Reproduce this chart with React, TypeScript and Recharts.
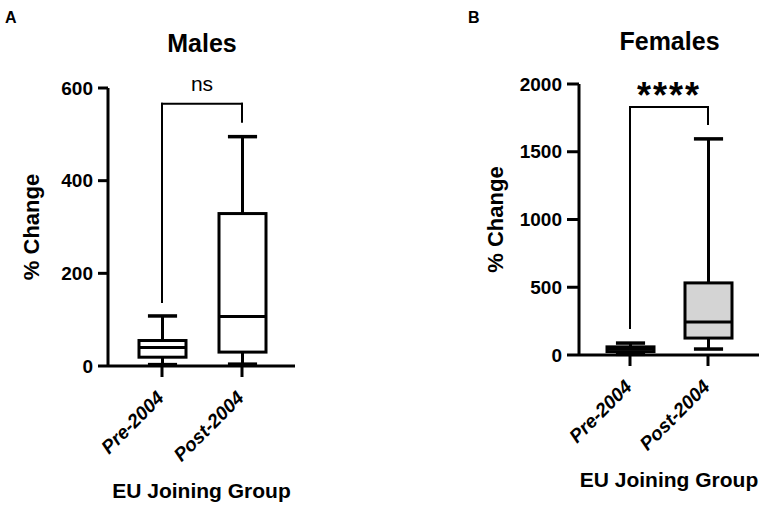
import React from 'react';
import { ComposedChart, Bar, XAxis, YAxis, ReferenceLine } from 'recharts';

const groups = ['Pre-2004', 'Post-2004'];

// five-number summaries: [min, q1, median, q3, max]
const malesSummary = [
  [3, 19, 40, 55, 108],
  [4, 30, 107, 329, 495],
];
const femalesSummary = [
  [5, 25, 45, 60, 88],
  [44, 125, 244, 532, 1595],
];

const malesTicks = [0, 200, 400, 600];
const femalesTicks = [0, 500, 1000, 1500, 2000];

// significance bracket: [left foot, top, right foot]
const malesBracket = [138, 566, 527];
const femalesBracket = [200, 1830, 1705];

const toRows = (summary: number[][]) =>
  groups.map((group, i) => {
    const [min, q1, median, q3, max] = summary[i];
    return { group, min, q1, median, q3, max, range: [min, max] };
  });

const BoxShape = (props: any) => {
  const { x, y, width, height, payload, boxFill } = props;
  const { min, q1, median, q3, max } = payload;
  // bar spans min..max, so map other values linearly inside it
  const toY = (v: number) => y + (height * (max - v)) / (max - min);
  const cx = x + width / 2;
  const cap = width * 0.31;
  return (
    <g stroke="#000" strokeWidth={3} fill="none">
      <line x1={cx} x2={cx} y1={toY(max)} y2={toY(q3)} />
      <line x1={cx} x2={cx} y1={toY(q1)} y2={toY(min)} />
      <line x1={cx - cap} x2={cx + cap} y1={toY(max)} y2={toY(max)} strokeWidth={3.5} />
      <line x1={cx - cap} x2={cx + cap} y1={toY(min)} y2={toY(min)} strokeWidth={3.5} />
      <rect x={x} y={toY(q3)} width={width} height={toY(q1) - toY(q3)} fill={boxFill} />
      <line x1={x} x2={x + width} y1={toY(median)} y2={toY(median)} />
    </g>
  );
};

const GroupTick = ({ x, y, payload }: any) => (
  <g transform={`translate(${x},${y})`}>
    <text
      transform="translate(3,20) rotate(-45)"
      textAnchor="end"
      fontSize={19}
      fontWeight="bold"
      fontStyle="italic"
      fill="#000"
    >
      {payload.value}
    </text>
  </g>
);

const yLabel = (bx: number) => (props: any) => {
  const { viewBox } = props;
  const cy = viewBox.y + viewBox.height / 2;
  return (
    <text
      x={bx}
      y={cy}
      transform={`rotate(-90, ${bx}, ${cy})`}
      textAnchor="middle"
      fontSize={22}
      fontWeight="bold"
      fill="#000"
    >
      % Change
    </text>
  );
};

const axisStroke = { stroke: '#000', strokeWidth: 3 };

type PanelProps = {
  left: number;
  width: number;
  rows: any[];
  ticks: number[];
  bracket: number[];
  mark: string;
  markStyle: any;
  boxFill: string;
  yAxisWidth: number;
  marginTop: number;
  marginRight: number;
  xAxisHeight: number;
  yTickSize: number;
  pad: { left: number; right: number };
  yLabelX: number;
  xLabelOffset: number;
};

const Panel = (p: PanelProps) => {
  const top = p.ticks[p.ticks.length - 1];
  const [footL, peak, footR] = p.bracket;
  return (
    <div style={{ position: 'absolute', left: p.left, top: 0 }}>
      <ComposedChart
        width={p.width}
        height={511}
        data={p.rows}
        margin={{ top: p.marginTop, right: p.marginRight, bottom: 0, left: 0 }}
      >
        <XAxis
          dataKey="group"
          type="category"
          height={p.xAxisHeight}
          padding={p.pad}
          axisLine={axisStroke}
          tickLine={axisStroke}
          tickSize={11}
          tickMargin={2}
          tick={<GroupTick />}
          interval={0}
          label={{
            value: 'EU Joining Group',
            position: 'insideBottom',
            offset: p.xLabelOffset,
            fontSize: 21,
            fontWeight: 'bold',
            fill: '#000',
          }}
        />
        <YAxis
          type="number"
          domain={[0, top]}
          ticks={p.ticks}
          width={p.yAxisWidth}
          axisLine={axisStroke}
          tickLine={axisStroke}
          tickSize={p.yTickSize}
          tickMargin={5}
          tick={{ fontSize: 19, fontWeight: 'bold', fill: '#000' }}
          label={{ content: yLabel(p.yLabelX) }}
        />
        <Bar
          dataKey="range"
          barSize={47}
          isAnimationActive={false}
          shape={(s: any) => <BoxShape {...s} boxFill={p.boxFill} />}
        />
        <ReferenceLine
          segment={[{ x: groups[0], y: footL }, { x: groups[0], y: peak }]}
          stroke="#000"
          strokeWidth={2}
          strokeLinecap="square"
        />
        <ReferenceLine
          segment={[{ x: groups[0], y: peak }, { x: groups[1], y: peak }]}
          stroke="#000"
          strokeWidth={2}
          strokeLinecap="square"
          label={{ value: p.mark, position: 'top', fill: '#000', ...p.markStyle }}
        />
        <ReferenceLine
          segment={[{ x: groups[1], y: peak }, { x: groups[1], y: footR }]}
          stroke="#000"
          strokeWidth={2}
          strokeLinecap="square"
        />
      </ComposedChart>
    </div>
  );
};

const textBox = (left: number, top: number, width: number, size: number, align: any) => ({
  position: 'absolute' as const,
  left,
  top,
  width,
  fontSize: size,
  lineHeight: `${size}px`,
  fontWeight: 'bold' as const,
  textAlign: align,
  color: '#000',
});

export default function App() {
  return (
    <div
      style={{
        position: 'absolute',
        left: 0,
        top: 0,
        width: 765,
        height: 511,
        background: '#fff',
        fontFamily: "'Liberation Sans', Arial, sans-serif",
      }}
    >
      <Panel
        left={0}
        width={380}
        rows={toRows(malesSummary)}
        ticks={malesTicks}
        bracket={malesBracket}
        mark="ns"
        markStyle={{ fontSize: 21, fontWeight: 'normal', offset: 13 }}
        boxFill="#fff"
        yAxisWidth={108}
        marginTop={88}
        marginRight={85}
        xAxisHeight={145}
        yTickSize={10}
        pad={{ left: 14, right: 13 }}
        yLabelX={38.5}
        xLabelOffset={13}
      />
      <Panel
        left={380}
        width={385}
        rows={toRows(femalesSummary)}
        ticks={femalesTicks}
        bracket={femalesBracket}
        mark="****"
        markStyle={{ fontSize: 36, fontWeight: 'bold', offset: -1, letterSpacing: 2 }}
        boxFill="#d4d4d4"
        yAxisWidth={199}
        marginTop={84}
        marginRight={6}
        xAxisHeight={156}
        yTickSize={12}
        pad={{ left: 12, right: 12 }}
        yLabelX={123}
        xLabelOffset={24}
      />
      <div style={textBox(5, 9.5, 40, 16, 'left')}>A</div>
      <div style={textBox(468, 9.5, 40, 16, 'left')}>B</div>
      <div style={textBox(102, 31, 200, 25, 'center')}>Males</div>
      <div style={textBox(569.5, 29, 200, 25, 'center')}>Females</div>
    </div>
  );
}
